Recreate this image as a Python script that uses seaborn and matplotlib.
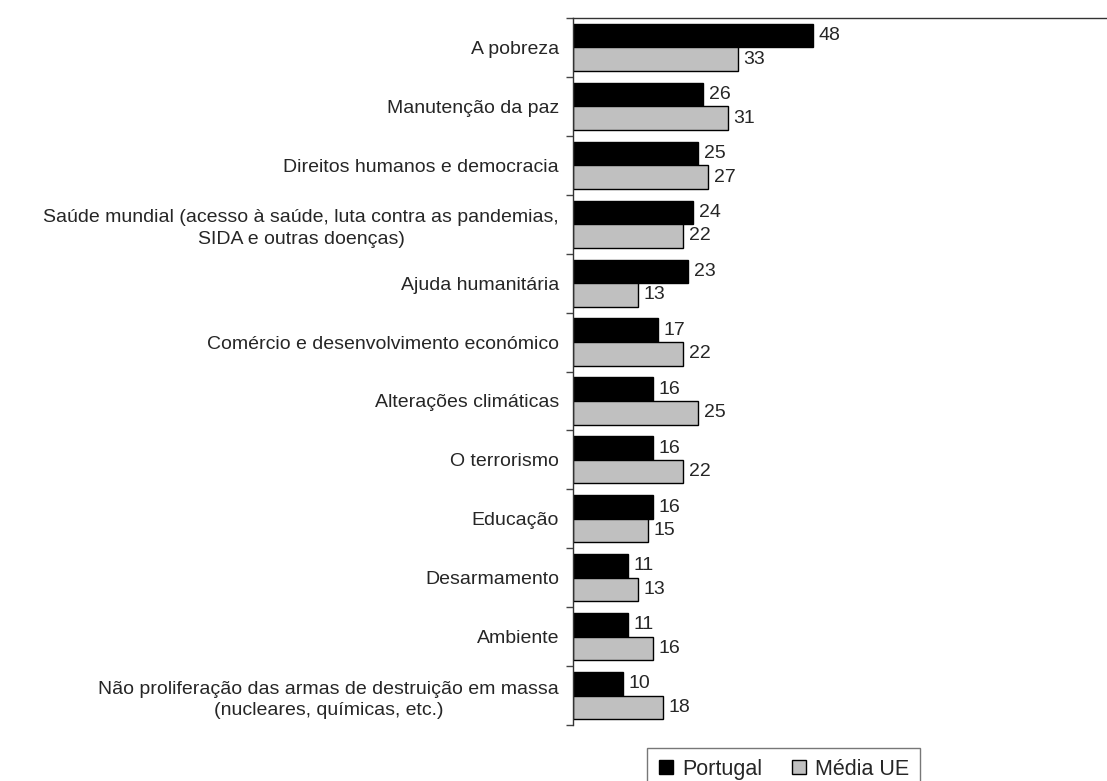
import seaborn as sns
import matplotlib.pyplot as plt
import pandas as pd

# Values
categories = [
    "A pobreza",
    "Manutenção da paz",
    "Direitos humanos e democracia",
    "Saúde mundial (acesso à saúde, luta contra as pandemias,\nSIDA e outras doenças)",
    "Ajuda humanitária",
    "Comércio e desenvolvimento económico",
    "Alterações climáticas",
    "O terrorismo",
    "Educação",
    "Desarmamento",
    "Ambiente",
    "Não proliferação das armas de destruição em massa\n(nucleares, químicas, etc.)",
]
portugal = [48, 26, 25, 24, 23, 17, 16, 16, 16, 11, 11, 10]
media_ue = [33, 31, 27, 22, 13, 22, 25, 22, 15, 13, 16, 18]
series = ["Portugal", "Média UE"]

df = pd.DataFrame({
    "categoria": categories * 2,
    "valor": portugal + media_ue,
    "serie": [series[0]] * len(categories) + [series[1]] * len(categories),
})

sns.set_style("white")
plt.rcParams['font.family'] = ['Liberation Sans', 'DejaVu Sans']

fig = plt.figure(figsize=(11.07, 7.81), dpi=100)
ax = fig.add_axes([573 / 1107, 1 - 725 / 781, 1 - 573 / 1107, (725 - 18) / 781])

sns.barplot(
    data=df, y="categoria", x="valor", hue="serie", orient="h",
    palette={"Portugal": "black", "Média UE": "#C0C0C0"},
    edgecolor="black", linewidth=1, width=0.8, legend=False, ax=ax,
)

for cont in ax.containers:
    ax.bar_label(cont, padding=4, fontsize=14)

ax.set_xlim(0, (1107 - 573) / 5)
ax.set_ylim(len(categories) - 0.5, -0.5)
ax.set_xlabel("")
ax.set_ylabel("")
ax.set_xticks([])

# category separators as ticks on the left spine
ax.set_yticks([i + 0.5 for i in range(-1, len(categories))], minor=False)
ax.set_yticklabels([])
ax.set_yticks(range(len(categories)), minor=True)
ax.set_yticklabels(categories, minor=True, fontsize=14, multialignment="center", linespacing=1.35)
ax.tick_params(axis="y", which="major", direction="out", length=5, width=1, left=True, color="#444444")
ax.tick_params(axis="y", which="minor", length=0, pad=10)

for side in ["bottom", "right"]:
    ax.spines[side].set_visible(False)
for side in ["top", "left"]:
    ax.spines[side].set_color("#333333")
    ax.spines[side].set_linewidth(1)

handles = [
    plt.Line2D([], [], marker="s", linestyle="", markersize=10,
               markerfacecolor="black", markeredgecolor="black"),
    plt.Line2D([], [], marker="s", linestyle="", markersize=10,
               markerfacecolor="#C0C0C0", markeredgecolor="black"),
]
fig.legend(handles, series, loc="upper left", bbox_to_anchor=(647 / 1107, 1 - 748 / 781),
           borderaxespad=0, ncol=2, frameon=True, fancybox=False, edgecolor="#555555",
           fontsize=15.5, handletextpad=0.4, columnspacing=1.3, borderpad=0.5,
           handlelength=0.75)

fig.savefig("out.png", dpi=100)
